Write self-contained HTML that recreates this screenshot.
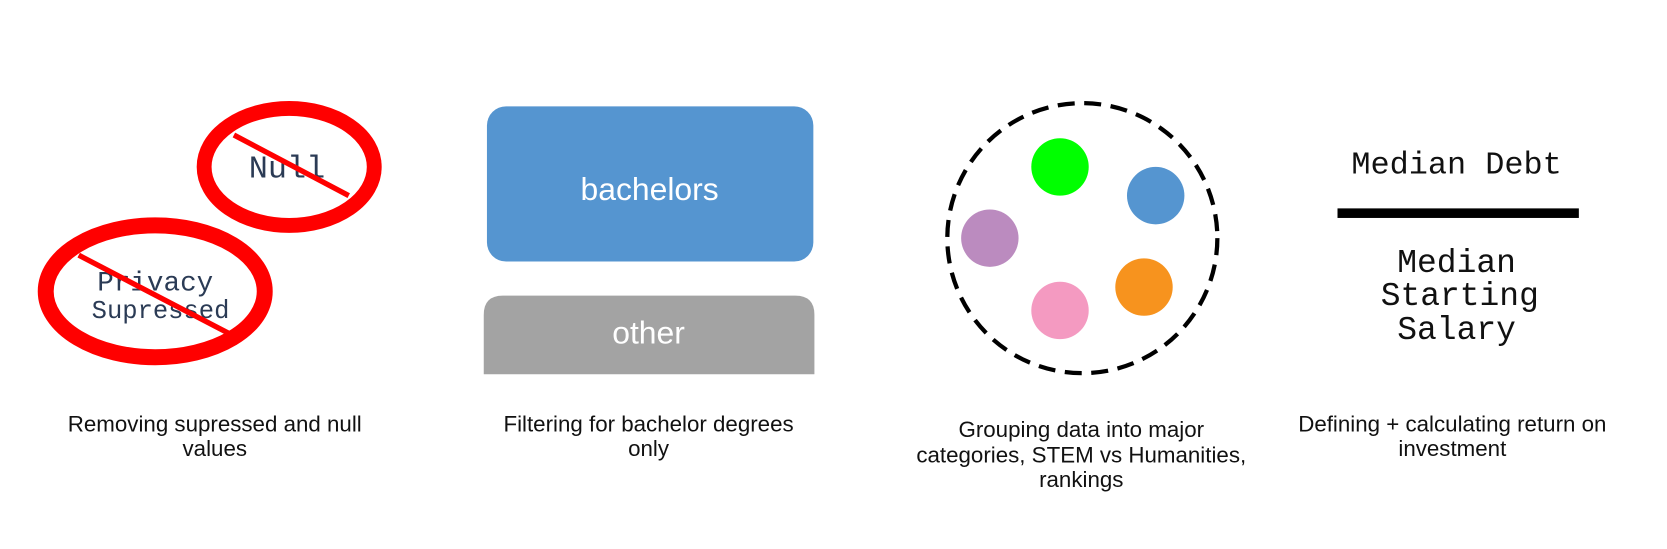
<!DOCTYPE html>
<html><head><meta charset="utf-8"><style>
html,body{margin:0;padding:0;background:#fff;width:1667px;height:549px;overflow:hidden}
svg text{font-family:"Liberation Sans",sans-serif}
.mono{font-family:"Liberation Mono","Courier New",monospace;fill:#2b3b55}
.cap{font-size:21px;fill:#111;text-anchor:middle}
</style></head><body>
<svg width="1667" height="549" viewBox="0 0 1667 549">
<g transform="scale(1.0632)">
<g>
<text class="mono" x="270" y="167" font-size="30" text-anchor="middle">Null</text>
<ellipse cx="272" cy="157" rx="80" ry="55" fill="none" stroke="#ff0000" stroke-width="14"/>
<line x1="220" y1="127" x2="328" y2="184" stroke="#ff0000" stroke-width="5"/>
</g>
<g>
<text class="mono" x="146" y="273" font-size="26" text-anchor="middle">Privacy</text>
<text class="mono" x="151" y="299" font-size="24" text-anchor="middle">Supressed</text>
<ellipse cx="146" cy="274" rx="103" ry="62" fill="none" stroke="#ff0000" stroke-width="15"/>
<line x1="74" y1="240" x2="220" y2="316" stroke="#ff0000" stroke-width="5"/>
</g>
<g>
<rect x="458" y="100" width="307" height="146" rx="18" fill="#5595d0"/>
<text x="611" y="188" font-size="30" fill="#fff" text-anchor="middle">bachelors</text>
</g>
<g>
<path d="M455 352 V296 Q455 278 473 278 H748 Q766 278 766 296 V352 Z" fill="#a3a3a3"/>
<text x="610" y="323" font-size="30" fill="#fff" text-anchor="middle">other</text>
</g>
<g>
<circle cx="1018" cy="224" r="127" fill="none" stroke="#000" stroke-width="4" stroke-dasharray="16 9"/>
<circle cx="997" cy="157" r="27" fill="#00ff00"/>
<circle cx="1087" cy="184" r="27" fill="#5595d0"/>
<circle cx="931" cy="224" r="27" fill="#bb8bbf"/>
<circle cx="1076" cy="270" r="27" fill="#f7931e"/>
<circle cx="997" cy="292" r="27" fill="#f49ac1"/>
</g>
<g>
<text class="mono" x="1370" y="163" font-size="30" style="fill:#111" text-anchor="middle">Median Debt</text>
<rect x="1258" y="196" width="227" height="9" fill="#000"/>
<text class="mono" x="1370" y="256" font-size="31" style="fill:#111" text-anchor="middle">Median</text>
<text class="mono" x="1373" y="287" font-size="31" style="fill:#111" text-anchor="middle">Starting</text>
<text class="mono" x="1370" y="319" font-size="31" style="fill:#111" text-anchor="middle">Salary</text>
</g>
<g>
<text class="cap" x="202" y="406">Removing supressed and null</text>
<text class="cap" x="202" y="429">values</text>
<text class="cap" x="610" y="406">Filtering for bachelor degrees</text>
<text class="cap" x="610" y="429">only</text>
<text class="cap" x="1017" y="411">Grouping data into major</text>
<text class="cap" x="1017" y="435">categories, STEM vs Humanities,</text>
<text class="cap" x="1017" y="458">rankings</text>
<text class="cap" x="1366" y="406">Defining + calculating return on</text>
<text class="cap" x="1366" y="429">investment</text>
</g>
</g>
</svg>
</body></html>
